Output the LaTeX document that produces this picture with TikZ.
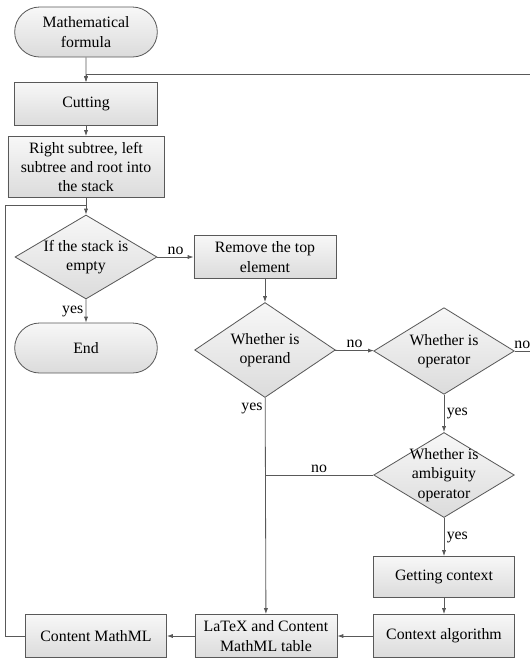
\documentclass[tikz,border=0pt]{standalone}
\usepackage{fontspec}
\setmainfont{Liberation Serif}
\usetikzlibrary{shapes.geometric,shapes.misc,arrows.meta}

\begin{document}
\begin{tikzpicture}[%
        x=0.03cm, y=-0.03cm,
        font=\fontsize{13.5}{16.5}\selectfont,
        box/.style={shape=rectangle, draw=black!65, line width=0.7pt, top color=black!3, bottom color=black!14, align=center, inner sep=1pt},
        endbox/.style={box, shape=rounded rectangle, minimum width=4.35cm, minimum height=1.5cm},
        stepbox/.style={box, minimum width=4.26cm, minimum height=1.29cm},
        decide/.style={box, shape=diamond, inner sep=-3pt, aspect=1.65, minimum width=4.22cm, minimum height=2.6cm},
        flow/.style={draw=black!65, line width=0.7pt, -{Latex[length=5pt,width=3.5pt]}},
        link/.style={draw=black!65, line width=0.7pt},
        lbl/.style={inner sep=2pt}
    ]
    \useasboundingbox (0,0) rectangle (530,659);

    \node [endbox] (start) at (86,32) {Mathematical\\formula};
    \node [stepbox, minimum width=4.29cm] (cut) at (86,104) {Cutting};
    \node [stepbox, minimum width=4.68cm, minimum height=1.83cm] (push) at (86,167) {Right subtree, left\\subtree and root into\\the stack};
    \node [decide, minimum width=4.26cm, minimum height=2.52cm] (empty) at (86,257) {If the stack is\\empty};
    \node [stepbox] (pop) at (265,257) {Remove the top\\element};
    \node [endbox] (end) at (86,348) {End};
    \node [decide, minimum height=2.85cm] (operand) at (265,350) {Whether is\\operand};
    \node [decide] (operator) at (444,351) {Whether is\\operator};
    \node [decide, minimum height=2.55cm] (ambig) at (444,475) {Whether is\\ambiguity\\operator};
    \node [stepbox, minimum width=4.23cm, minimum height=1.23cm] (ctx) at (444,577) {Getting context};
    \node [stepbox, minimum width=4.23cm] (algo) at (444,636) {Context algorithm};
    \node [stepbox] (table) at (266,636) {LaTeX and Content\\MathML table};
    \node [stepbox, minimum width=4.23cm] (cmml) at (96,636) {Content MathML};

    \coordinate (topright) at (530,74);
    \coordinate (rightedge) at (530,351);
    \coordinate (loop) at (5,205);

    \draw [flow] (start) -- (cut);
    \draw [flow] (topright) -| (cut.north);
    \draw [flow] (cut) -- (push);
    \draw [flow] (push) -- (empty);
    \draw [flow] (empty) -- node [lbl, above] (noempty) {no} (pop);
    \draw [flow] (empty) -- node [lbl, left] (yesempty) {yes} (end);
    \draw [flow] (pop) -- (operand);
    \draw [flow] (operand) -- node [lbl, above] (nooperand) {no} (operator);
    \draw [link] (operator) -- node [lbl, above] (nooperator) {no} (rightedge);
    \draw [flow] (operator) -- node [lbl, right] (yesoperator) {yes} (ambig);
    \draw [flow] (operand) -- node [lbl, left, pos=0.05] (yesoperand) {yes} (table);
    \draw [link] (ambig) -- node [lbl, above] (noambig) {no} (ambig -| operand);
    \draw [flow] (ambig) -- node [lbl, right] (yesambig) {yes} (ctx);
    \draw [flow] (ctx) -- (algo);
    \draw [flow] (algo) -- (table);
    \draw [flow] (table) -- (cmml);
    \draw [link] (cmml.west) -| (loop) -- (loop -| push);
\end{tikzpicture}
\end{document}
